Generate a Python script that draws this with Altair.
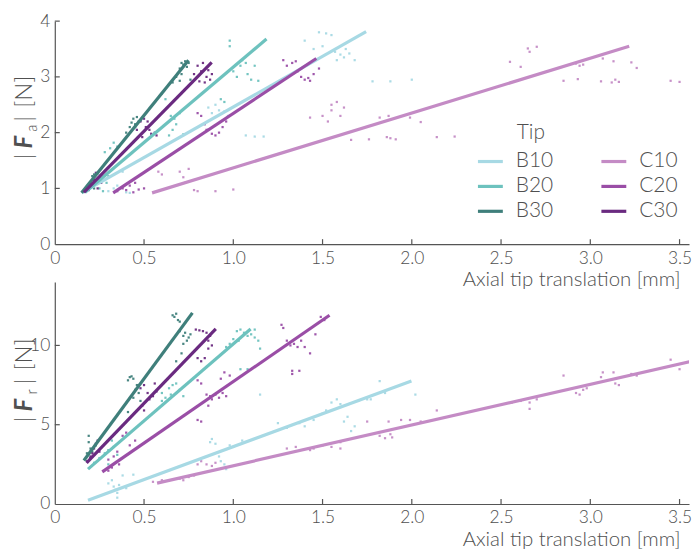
import altair as alt
import pandas as pd

TIPS = ["B10", "C10", "B20", "C20", "B30", "C30"]
COLORS = ["#a7d9e4", "#c48bc5", "#6dc2be", "#9a4ea6", "#3f7f7b", "#6a2a80"]
LEGEND_ORDER = ["B10", "B20", "B30", "C10", "C20", "C30"]

X_TICKS = [0, 0.5, 1.0, 1.5, 2.0, 2.5, 3.0, 3.5]
FA_TICKS = [0, 1, 2, 3, 4]
FR_TICKS = [0, 5, 10]

# ---------- |F_a| panel: scatter points ----------
FA_B10 = [(0.30, 0.95), (0.33, 1.00), (0.35, 1.05), (0.38, 1.30), (0.40, 0.93), (0.42, 0.92),
          (0.86, 2.45), (0.88, 2.35), (0.90, 2.50), (0.92, 2.40), (0.95, 2.38), (0.97, 2.30),
          (1.07, 1.95), (1.12, 1.93), (1.17, 1.93), (1.40, 3.65), (1.45, 3.50), (1.48, 3.80),
          (1.50, 3.55), (1.52, 3.78), (1.55, 3.75), (1.57, 3.45), (1.58, 3.30), (1.60, 3.40),
          (1.62, 3.35), (1.63, 3.50), (1.65, 3.42), (1.68, 3.30), (1.78, 2.92), (1.88, 2.92),
          (2.00, 2.95)]
FA_B20 = [(0.25, 1.00), (0.27, 0.95), (0.29, 1.10), (0.30, 1.22), (0.28, 1.65), (0.31, 1.72),
          (0.33, 1.82), (0.35, 1.75), (0.60, 2.70), (0.62, 2.60), (0.64, 1.95), (0.65, 2.30),
          (0.66, 2.05), (0.67, 2.25), (0.68, 2.15), (0.70, 2.35), (0.72, 1.97), (0.93, 2.60),
          (0.95, 2.55), (0.98, 3.55), (0.98, 3.65), (1.00, 3.10), (1.02, 3.00), (1.04, 3.20),
          (1.05, 3.30), (1.07, 3.25), (1.08, 3.05), (1.10, 2.95), (1.12, 3.20), (1.14, 2.93)]
FA_B30 = [(0.17, 0.95), (0.18, 0.98), (0.19, 1.05), (0.20, 1.10), (0.21, 1.22), (0.22, 1.25),
          (0.22, 1.00), (0.23, 1.15), (0.24, 1.27), (0.40, 2.00), (0.42, 2.10), (0.43, 2.18),
          (0.44, 2.25), (0.45, 2.15), (0.45, 2.10), (0.46, 2.28), (0.47, 2.20), (0.48, 2.22),
          (0.66, 2.90), (0.68, 3.00), (0.70, 3.15), (0.70, 2.93), (0.71, 3.05), (0.71, 3.25),
          (0.72, 3.22), (0.73, 3.28), (0.74, 3.18), (0.75, 3.25), (0.76, 2.95)]
FA_C10 = [(0.58, 1.30), (0.60, 1.25), (0.70, 1.30), (0.72, 1.20), (0.73, 1.10), (0.75, 1.35),
          (0.78, 0.97), (0.80, 0.95), (0.90, 0.95), (1.00, 0.98), (1.43, 2.27), (1.50, 2.30),
          (1.53, 2.20), (1.55, 2.50), (1.55, 2.40), (1.58, 2.55), (1.60, 2.30), (1.62, 2.45),
          (1.66, 1.87), (1.76, 1.88), (1.82, 2.27), (1.86, 1.92), (1.88, 1.90), (1.91, 1.88),
          (1.87, 2.30), (1.99, 2.27), (2.05, 2.19), (2.14, 1.92), (2.24, 1.93), (2.55, 3.27),
          (2.61, 3.18), (2.65, 3.51), (2.66, 3.45), (2.70, 3.54), (2.85, 2.93), (2.92, 3.24),
          (2.93, 2.96), (2.94, 3.20), (2.96, 3.22), (3.06, 2.92), (3.07, 3.33), (3.12, 2.90),
          (3.13, 3.28), (3.14, 2.95), (3.16, 2.91), (3.23, 3.26), (3.26, 3.16), (3.45, 2.93),
          (3.50, 2.91)]
FA_C20 = [(0.35, 0.95), (0.38, 1.00), (0.40, 0.97), (0.42, 1.05), (0.44, 0.93), (0.45, 1.10),
          (0.47, 0.98), (0.50, 1.00), (0.80, 2.35), (0.82, 2.30), (0.84, 2.15), (0.85, 2.05),
          (0.86, 2.05), (0.88, 1.98), (0.90, 1.95), (0.92, 2.00), (0.94, 2.10), (0.96, 2.20),
          (1.28, 3.30), (1.30, 3.20), (1.33, 3.25), (1.35, 3.28), (1.36, 3.10), (1.38, 3.00),
          (1.40, 2.95), (1.42, 2.98), (1.43, 2.93), (1.45, 3.05), (1.48, 3.15)]
FA_C30 = [(0.19, 0.97), (0.21, 1.05), (0.22, 1.15), (0.23, 1.28), (0.24, 1.00), (0.25, 1.20),
          (0.26, 1.10), (0.46, 2.05), (0.48, 2.20), (0.49, 1.92), (0.50, 2.25), (0.51, 2.10),
          (0.52, 2.20), (0.53, 2.05), (0.54, 1.98), (0.56, 2.00), (0.57, 1.95), (0.78, 3.05),
          (0.80, 3.20), (0.81, 2.92), (0.82, 3.10), (0.83, 3.25), (0.84, 2.90), (0.85, 3.00),
          (0.86, 3.12), (0.87, 2.95), (0.88, 3.05)]

# ---------- |F_a| panel: fitted lines (start, end) ----------
FA_LINES = {
    "B10": [(0.15, 0.92), (1.744, 3.81)],
    "B20": [(0.17, 0.93), (1.186, 3.68)],
    "B30": [(0.15, 0.92), (0.749, 3.30)],
    "C10": [(0.545, 0.92), (3.218, 3.55)],
    "C20": [(0.327, 0.92), (1.465, 3.33)],
    "C30": [(0.163, 0.93), (0.879, 3.26)],
}

# ---------- |F_r| panel: scatter points ----------
FR_B10 = [(0.30, 1.30), (0.32, 1.50), (0.33, 1.10), (0.34, 0.90), (0.35, 0.40), (0.35, 0.70),
          (0.36, 1.20), (0.38, 1.80), (0.40, 1.00), (0.44, 1.85), (0.87, 3.90), (0.88, 4.10),
          (0.90, 3.80), (0.92, 3.00), (0.93, 2.70), (0.95, 2.50), (0.96, 2.20), (0.98, 3.70),
          (1.00, 3.60), (1.05, 4.00), (1.15, 6.90), (1.25, 5.10), (1.30, 4.80), (1.37, 5.10),
          (1.40, 4.90), (1.45, 5.30), (1.50, 5.70), (1.52, 5.90), (1.55, 6.40), (1.58, 6.60),
          (1.60, 6.30), (1.62, 5.20), (1.64, 5.50), (1.66, 4.60), (1.68, 4.90), (1.70, 6.50),
          (1.75, 6.60), (1.77, 6.60), (1.82, 7.75), (1.85, 7.00), (2.02, 6.90)]
FR_B20 = [(0.22, 2.60), (0.25, 2.90), (0.28, 3.20), (0.30, 3.40), (0.30, 2.50), (0.32, 4.00),
          (0.33, 3.60), (0.35, 3.10), (0.60, 7.00), (0.60, 6.50), (0.62, 6.70), (0.64, 7.30),
          (0.65, 6.90), (0.66, 7.50), (0.68, 7.60), (0.70, 7.20), (0.72, 6.80), (0.96, 9.90),
          (0.98, 10.1), (1.00, 10.4), (1.02, 10.9), (1.03, 10.3), (1.04, 11.0), (1.04, 8.50),
          (1.06, 10.8), (1.08, 10.6), (1.08, 8.50), (1.10, 10.7), (1.12, 10.5), (1.12, 11.0),
          (1.14, 10.3), (1.15, 9.80)]
FR_B30 = [(0.18, 3.20), (0.19, 4.30), (0.19, 3.90), (0.20, 3.50), (0.20, 2.90), (0.21, 3.30),
          (0.22, 3.10), (0.23, 3.70), (0.41, 7.80), (0.41, 5.80), (0.42, 8.00), (0.43, 8.05),
          (0.44, 7.90), (0.44, 6.70), (0.45, 7.20), (0.46, 7.50), (0.47, 7.00), (0.48, 6.50),
          (0.66, 11.9), (0.67, 11.8), (0.68, 12.0), (0.68, 9.00), (0.69, 11.6), (0.70, 11.5),
          (0.70, 10.9), (0.71, 9.50), (0.72, 10.6), (0.72, 10.1), (0.73, 10.8), (0.74, 10.3),
          (0.75, 10.5), (0.76, 10.7)]
FR_C10 = [(0.55, 1.40), (0.60, 1.50), (0.70, 1.60), (0.72, 1.50), (0.75, 1.70), (0.78, 1.80),
          (0.80, 2.50), (0.82, 2.70), (0.85, 2.50), (0.88, 2.40), (0.90, 2.60), (1.30, 3.50),
          (1.35, 3.60), (1.43, 3.40), (1.45, 3.50), (1.50, 3.70), (1.55, 3.60), (1.60, 3.50),
          (1.60, 3.90), (1.75, 5.20), (1.82, 4.30), (1.85, 4.15), (1.87, 5.20), (1.88, 4.40),
          (1.89, 4.20), (1.94, 5.30), (1.99, 5.30), (2.05, 5.20), (2.14, 5.90), (2.56, 6.40),
          (2.61, 6.50), (2.66, 6.00), (2.66, 6.40), (2.70, 6.60), (2.85, 8.10), (2.92, 7.00),
          (2.94, 6.90), (2.96, 7.20), (2.98, 7.30), (3.06, 8.00), (3.07, 8.30), (3.13, 8.30),
          (3.14, 7.60), (3.16, 7.50), (3.23, 8.20), (3.26, 8.10), (3.45, 9.10), (3.50, 8.50)]
FR_C20 = [(0.30, 2.80), (0.30, 2.10), (0.32, 2.30), (0.33, 3.00), (0.35, 3.30), (0.36, 2.50),
          (0.38, 4.30), (0.40, 4.50), (0.42, 3.70), (0.45, 4.00), (0.80, 7.80), (0.80, 5.30),
          (0.82, 7.60), (0.82, 5.20), (0.85, 6.90), (0.86, 6.20), (0.87, 6.80), (0.88, 6.60),
          (0.90, 6.90), (0.92, 6.70), (0.93, 7.90), (0.94, 7.00), (0.95, 8.30), (0.96, 6.80),
          (0.98, 8.10), (1.27, 11.3), (1.28, 11.1), (1.30, 10.3), (1.32, 10.0), (1.33, 8.40),
          (1.33, 8.20), (1.34, 10.1), (1.36, 9.90), (1.37, 8.40), (1.38, 10.3), (1.40, 9.90),
          (1.43, 9.50), (1.46, 10.7), (1.49, 11.8), (1.51, 11.6)]
FR_C30 = [(0.18, 2.70), (0.20, 2.90), (0.20, 3.00), (0.21, 3.20), (0.22, 3.50), (0.23, 3.80),
          (0.24, 4.00), (0.25, 3.30), (0.48, 7.30), (0.49, 6.20), (0.50, 7.50), (0.50, 5.90),
          (0.52, 7.00), (0.53, 6.60), (0.55, 6.80), (0.56, 7.60), (0.57, 7.10), (0.79, 11.0),
          (0.80, 9.20), (0.81, 10.95), (0.82, 9.00), (0.83, 10.9), (0.84, 9.20), (0.85, 10.8),
          (0.86, 10.3), (0.86, 9.80), (0.87, 10.6), (0.88, 10.0)]

# ---------- |F_r| panel: fitted lines (start, end) ----------
FR_LINES = {
    "B10": [(0.186, 0.24), (1.998, 7.76)],
    "B20": [(0.186, 2.20), (1.097, 11.04)],
    "B30": [(0.163, 2.74), (0.771, 12.05)],
    "C10": [(0.573, 1.32), (3.597, 9.08)],
    "C20": [(0.266, 2.03), (1.539, 11.90)],
    "C30": [(0.178, 2.60), (0.902, 11.04)],
}

FONT = "Lato"
TEXT = "#505050"
AXIS = "#555555"
W = 637
XMAX = 3.553


def points_frame(series):
    rows = []
    for tip, pts in series.items():
        for x, y in pts:
            rows.append({"tip": tip, "x": x, "y": y})
    return pd.DataFrame(rows)


def lines_frame(lines):
    rows = []
    for tip, pts in lines.items():
        for i, (x, y) in enumerate(pts):
            rows.append({"tip": tip, "x": x, "y": y, "i": i})
    return pd.DataFrame(rows)


cscale = alt.Scale(domain=TIPS, range=COLORS)
xscale = alt.Scale(domain=[0, XMAX], nice=False, zero=False)
ONE = pd.DataFrame({"a": [0]})


def txt(text, x, y, size, **kw):
    return alt.Chart(ONE).mark_text(font=FONT, fontSize=size, color=TEXT, **kw).encode(
        text=alt.value(text), x=alt.value(x), y=alt.value(y))


def panel(series, lines, ymax, yticks, height, sub, ty, show_legend):
    yscale = alt.Scale(domain=[0, ymax], nice=False)
    xaxis = alt.Axis(values=X_TICKS, labelExpr="datum.value == 0 ? '0' : format(datum.value, '.1f')",
                     ticks=False, tickSize=0, grid=False, domainColor=AXIS, domainWidth=1.2,
                     labelFontSize=17.5, labelColor=TEXT, labelFont=FONT, labelPadding=5,
                     labelFlush=False, labelFontWeight=300,
                     title="Axial tip translation [mm]", titleFont=FONT, titleFontSize=20.5,
                     titleFontWeight=300, titleColor=TEXT, titleAlign="right",
                     titleAnchor="end", titleX=628, titleY=36, titleBaseline="middle")
    yaxis = alt.Axis(values=yticks, ticks=False, tickSize=0, grid=False, domainColor=AXIS,
                     domainWidth=1.2, labelFontSize=17.5, labelColor=TEXT, labelFont=FONT,
                     labelFontWeight=300, labelPadding=5, title=None, labelFlush=False)
    X = alt.X("x:Q", scale=xscale, axis=xaxis)
    Y = alt.Y("y:Q", scale=yscale, axis=yaxis)
    pts = alt.Chart(points_frame(series)).mark_square(size=5, opacity=0.95).encode(
        x=X, y=Y,
        fill=alt.Fill("tip:N", scale=cscale, legend=None),
    )
    lns = alt.Chart(lines_frame(lines)).mark_line(strokeWidth=3.2, clip=True).encode(
        x=X, y=Y,
        color=alt.Color("tip:N", scale=cscale, legend=None),
        order="i:O",
    )
    xt = alt.Chart(pd.DataFrame({"x": X_TICKS[1:]})).mark_rule(color=AXIS, strokeWidth=1.2).encode(
        x=X, y=alt.value(height), y2=alt.value(height - 5))
    yt = alt.Chart(pd.DataFrame({"y": yticks[1:]})).mark_rule(color=AXIS, strokeWidth=1.2).encode(
        y=Y, x=alt.value(0), x2=alt.value(5))

    # y axis title |F_sub| [N], built from pieces (rotated, reading upwards)
    tx = -30
    rot = dict(angle=270, align="left", baseline="middle")
    layers = [pts, lns, xt, yt,
              txt("|", tx, ty, 24, fontWeight=300, **rot),
              txt("F", tx, ty - 11, 24, fontStyle="italic", fontWeight="bold", **rot),
              txt(sub, tx + 7, ty - 28, 15, fontWeight=300, **rot),
              txt("|", tx, ty - 38, 24, fontWeight=300, **rot),
              txt("[N]", tx, ty - 52, 24, fontWeight=300, **rot)]
    if show_legend:
        layers.append(txt("Tip", 464, 112, 21, align="left", baseline="middle", fontWeight=300))
        for i, tip in enumerate(LEGEND_ORDER):
            col, row = i // 3, i % 3
            sx = 425 + col * 124
            sy = 141 + row * 25
            color = COLORS[TIPS.index(tip)]
            layers.append(alt.Chart(ONE).mark_rule(strokeWidth=3.2, color=color).encode(
                x=alt.value(sx), x2=alt.value(sx + 25), y=alt.value(sy)))
            layers.append(txt(tip, sx + 38, sy, 21, align="left", baseline="middle", fontWeight=300))
    return alt.layer(*layers).properties(width=W, height=height)


top = panel({"B10": FA_B10, "B20": FA_B20, "B30": FA_B30, "C10": FA_C10, "C20": FA_C20, "C30": FA_C30},
            FA_LINES, 4, FA_TICKS, 224, "a", 139, True)
bottom = panel({"B10": FR_B10, "B20": FR_B20, "B30": FR_B30, "C10": FR_C10, "C20": FR_C20, "C30": FR_C30},
               FR_LINES, 14, FR_TICKS, 223, "r", 141, False)

chart = alt.vconcat(top, bottom, spacing=38, bounds="flush").resolve_scale(
    color="independent", fill="independent"
).properties(
    padding={"left": 5, "top": 3, "right": 0, "bottom": 0}
).configure(font=FONT).configure_view(stroke=None)

chart.save("out.html", embed_options={"renderer": "svg", "actions": False})
